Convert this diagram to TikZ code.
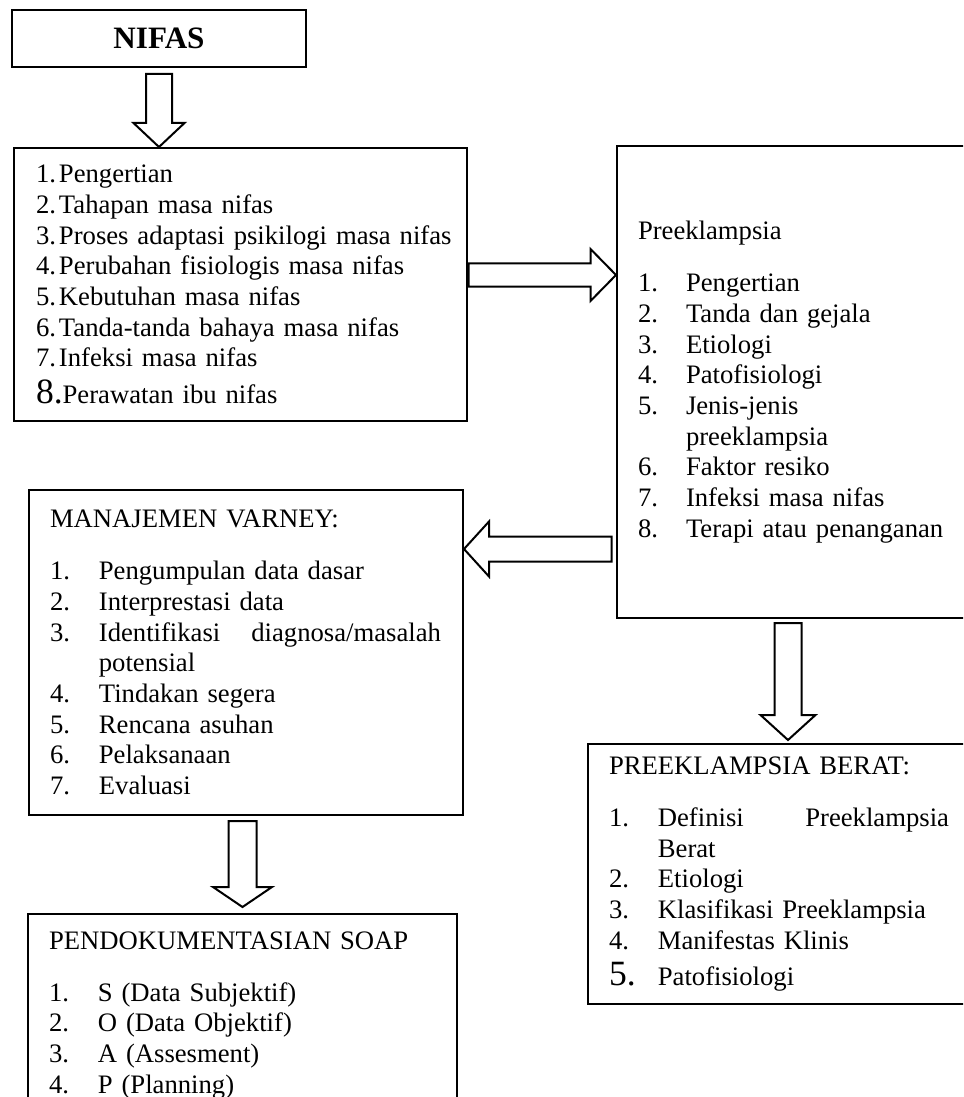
\documentclass[tikz,border=0pt]{standalone}
\usepackage{fontspec}
\setmainfont{Liberation Serif}
\usetikzlibrary{calc}

\tikzset{
  box/.style={draw, line width=0.9pt, anchor=north west, align=left,
    inner xsep=9.45pt, inner ysep=0pt, font=\fontsize{12}{13.8}\selectfont},
  blockarrow/.style={draw, line width=0.9pt, fill=white, line join=miter}
}
\newcommand{\nb}[2][22pt]{\makebox[#1][l]{#2}}

\begin{document}
\begin{tikzpicture}[x=0.45pt, y=-0.45pt]
\useasboundingbox (0,0) rectangle (963,1097);
\clip (0,0) rectangle (963,1097);

\node[draw, line width=0.9pt, anchor=north west, minimum width=132.3pt, minimum height=25.65pt,
  inner sep=0pt, font=\bfseries\fontsize{14}{16}\selectfont] (nifas) at (11,9) {NIFAS};

\node[box, inner xsep=9.9pt, text width=184.05pt, minimum height=122.85pt] (materi) at (13,147) {%
\nb[10.35pt]{1.}Pengertian\\
\nb[10.35pt]{2.}Tahapan masa nifas\\
\mbox{\nb[10.35pt]{3.}Proses adaptasi psikilogi masa nifas}\\
\nb[10.35pt]{4.}Perubahan fisiologis masa nifas\\
\nb[10.35pt]{5.}Kebutuhan masa nifas\\
\nb[10.35pt]{6.}Tanda-tanda bahaya masa nifas\\
\nb[10.35pt]{7.}Infeksi masa nifas\\[2.5pt]
{\fontsize{16}{16}\selectfont 8.}Perawatan ibu nifas};

\node[box, text width=140.4pt, minimum height=212.4pt] (preek) at (616,145) {%
Preeklampsia\\[9.7pt]
\nb[21.6pt]{1.}Pengertian\\
\nb[21.6pt]{2.}Tanda dan gejala\\
\nb[21.6pt]{3.}Etiologi\\
\nb[21.6pt]{4.}Patofisiologi\\
\nb[21.6pt]{5.}Jenis-jenis\\
\hspace*{21.6pt}preeklampsia\\
\nb[21.6pt]{6.}Faktor resiko\\
\nb[21.6pt]{7.}Infeksi masa nifas\\
\nb[21.6pt]{8.}Terapi atau penanganan};

\node[box, text width=176.4pt, minimum height=146.25pt] (varney) at (28,489) {%
MANAJEMEN VARNEY:\\[9.7pt]
\nb{1.}Pengumpulan data dasar\\
\nb{2.}Interprestasi data\\
\nb{3.}\makebox[153.9pt][s]{Identifikasi\hfill diagnosa/masalah}\\
\hspace*{22pt}potensial\\
\nb{4.}Tindakan segera\\
\nb{5.}Rencana asuhan\\
\nb{6.}Pelaksanaan\\
\nb{7.}Evaluasi};

\node[box, text width=174.15pt, inner ysep=7.8pt] (soap) at (27,913) {%
PENDOKUMENTASIAN SOAP\\[9.7pt]
\nb{1.}S (Data Subjektif)\\
\nb{2.}O (Data Objektif)\\
\nb{3.}A (Assesment)\\
\nb{4.}P (Planning)};

\node[box, text width=153.45pt, minimum height=117pt] (berat) at (587,743) {%
PREEKLAMPSIA BERAT:\\[9.7pt]
\nb{1.}\makebox[131pt][s]{Definisi\hfill Preeklampsia}\\
\hspace*{22pt}Berat\\
\nb{2.}Etiologi\\
\nb{3.}Klasifikasi Preeklampsia\\
\nb{4.}Manifestas Klinis\\[2.5pt]
\nb{\fontsize{16}{16}\selectfont 5.}Patofisiologi};

\coordinate (t1) at (nifas.south |- materi.north);
\coordinate (t2) at ($(preek.north west)+(0,130)$);
\coordinate (t3) at ($(varney.north east)+(0,60)$);
\coordinate (t4) at ($(soap.north)+(0,-6)$);
\coordinate (t5) at ($(berat.north west)+(201,-3)$);

\foreach \tip/\ang/\len/\hl/\hw/\sw in {t1/-90/73/24/25.5/13, t2/0/147.5/25.5/26/11.7,
    t3/180/147.5/25/27.5/12.5, t4/-90/86/20/29.5/14, t5/-90/117/25/27.5/13.5}
  \draw[blockarrow, shift={(\tip)}, rotate=\ang] (0,0) -- (-\hl,\hw) -- (-\hl,\sw)
    -- (-\len,\sw) -- (-\len,-\sw) -- (-\hl,-\sw) -- (-\hl,-\hw) -- cycle;

\end{tikzpicture}
\end{document}
